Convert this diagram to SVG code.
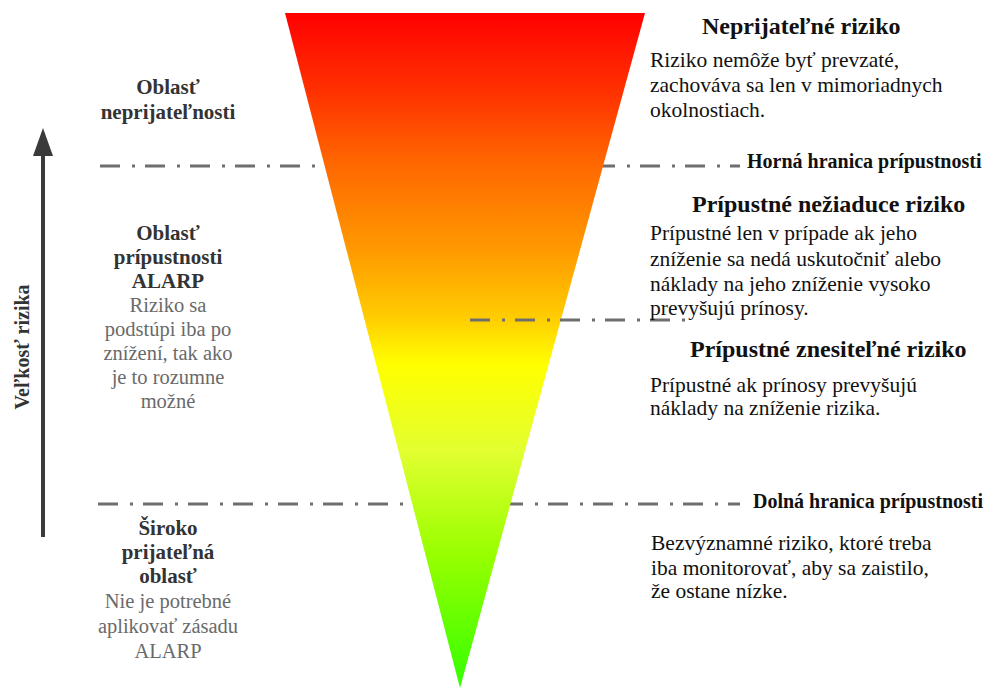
<svg xmlns="http://www.w3.org/2000/svg" width="990" height="689" viewBox="0 0 990 689">
  <defs>
    <linearGradient id="riskGrad" gradientUnits="userSpaceOnUse" x1="0" y1="13" x2="0" y2="688">
      <stop offset="0" stop-color="#ff0000"/>
      <stop offset="0.12" stop-color="#ff3300"/>
      <stop offset="0.22" stop-color="#ff6600"/>
      <stop offset="0.35" stop-color="#ff9900"/>
      <stop offset="0.45" stop-color="#ffcc00"/>
      <stop offset="0.52" stop-color="#ffff00"/>
      <stop offset="0.65" stop-color="#e2ff30"/>
      <stop offset="0.80" stop-color="#99ff00"/>
      <stop offset="1" stop-color="#33ff00"/>
    </linearGradient>
    <marker id="arrowHead" markerUnits="userSpaceOnUse" markerWidth="28" markerHeight="20" refX="22" refY="10" orient="auto" viewBox="0 0 28 20">
      <path d="M0 0 L28 10 L0 20 Z" fill="#3a3a3a"/>
    </marker>
    <style>
      .bound { stroke: #6e6e6e; stroke-width: 3; stroke-dasharray: 20 12 3 10; fill: none; }
      .lhead { font-family: "Liberation Serif", "Times New Roman", serif; font-weight: bold; font-size: 21px; fill: #333; text-anchor: middle; }
      .lbody { font-family: "Liberation Serif", "Times New Roman", serif; font-size: 20.5px; fill: #6a6a6a; text-anchor: middle; }
      .rtitle { font-family: "Liberation Serif", "Times New Roman", serif; font-weight: bold; font-size: 24px; fill: #111; }
      .rbound { font-family: "Liberation Serif", "Times New Roman", serif; font-weight: bold; font-size: 20px; fill: #111; }
      .rbody { font-family: "Liberation Serif", "Times New Roman", serif; font-size: 21.5px; fill: #111; }
      .axis { font-family: "Liberation Serif", "Times New Roman", serif; font-weight: bold; font-size: 20px; fill: #333; text-anchor: middle; }
    </style>
  </defs>

  <rect width="990" height="689" fill="#ffffff"/>

  <!-- tolerability boundaries behind the funnel, and the risk-size axis -->
  <g id="connectors">
    <line class="bound" x1="100" y1="166" x2="740" y2="166"/>
    <line class="bound" x1="98" y1="504" x2="740" y2="504"/>
    <line x1="43" y1="537" x2="43" y2="134" stroke="#3a3a3a" stroke-width="4" marker-end="url(#arrowHead)"/>
  </g>

  <!-- risk funnel -->
  <g id="funnel">
    <polygon points="285,13 645,13 460,688" fill="url(#riskGrad)"/>
  </g>

  <!-- intermediate boundary drawn over the funnel -->
  <g id="connectors-mid">
    <line class="bound" x1="470" y1="320" x2="692" y2="320"/>
  </g>

  <g id="axis-label">
    <text class="axis" transform="translate(29,347) rotate(-90)">Veľkosť rizika</text>
  </g>

  <g id="zone-unacceptable">
    <text class="lhead" x="168" y="94">Oblasť</text>
    <text class="lhead" x="168" y="119">neprijateľnosti</text>
  </g>

  <g id="zone-alarp">
    <text class="lhead" x="168" y="240">Oblasť</text>
    <text class="lhead" x="168" y="264">prípustnosti</text>
    <text class="lhead" x="168" y="288">ALARP</text>
    <text class="lbody" x="168" y="312">Riziko sa</text>
    <text class="lbody" x="168" y="336">podstúpi iba po</text>
    <text class="lbody" x="168" y="360">znížení, tak ako</text>
    <text class="lbody" x="168" y="384">je to rozumne</text>
    <text class="lbody" x="168" y="408">možné</text>
  </g>

  <g id="zone-acceptable">
    <text class="lhead" x="168" y="535">Široko</text>
    <text class="lhead" x="168" y="559">prijateľná</text>
    <text class="lhead" x="168" y="583">oblasť</text>
    <text class="lbody" x="168" y="608">Nie je potrebné</text>
    <text class="lbody" x="168" y="633">aplikovať zásadu</text>
    <text class="lbody" x="168" y="658">ALARP</text>
  </g>

  <g id="risk-unacceptable">
    <text class="rtitle" x="702" y="34">Neprijateľné riziko</text>
    <text class="rbody" x="650" y="67">Riziko nemôže byť prevzaté,</text>
    <text class="rbody" x="650" y="92">zachováva sa len v mimoriadnych</text>
    <text class="rbody" x="650" y="117">okolnostiach.</text>
  </g>

  <g id="upper-limit">
    <text class="rbound" x="747" y="168">Horná hranica prípustnosti</text>
  </g>

  <g id="risk-undesirable">
    <text class="rtitle" x="692" y="212">Prípustné nežiaduce riziko</text>
    <text class="rbody" x="650" y="240">Prípustné len v prípade ak jeho</text>
    <text class="rbody" x="650" y="266">zníženie sa nedá uskutočniť alebo</text>
    <text class="rbody" x="650" y="291">náklady na jeho zníženie vysoko</text>
    <text class="rbody" x="650" y="315">prevyšujú prínosy.</text>
  </g>

  <g id="risk-tolerable">
    <text class="rtitle" x="690" y="357">Prípustné znesiteľné riziko</text>
    <text class="rbody" x="650" y="392">Prípustné ak prínosy prevyšujú</text>
    <text class="rbody" x="650" y="415">náklady na zníženie rizika.</text>
  </g>

  <g id="lower-limit">
    <text class="rbound" x="753" y="508">Dolná hranica prípustnosti</text>
  </g>

  <g id="risk-negligible">
    <text class="rbody" x="651" y="550">Bezvýznamné riziko, ktoré treba</text>
    <text class="rbody" x="651" y="575">iba monitorovať, aby sa zaistilo,</text>
    <text class="rbody" x="651" y="598">že ostane nízke.</text>
  </g>
</svg>
